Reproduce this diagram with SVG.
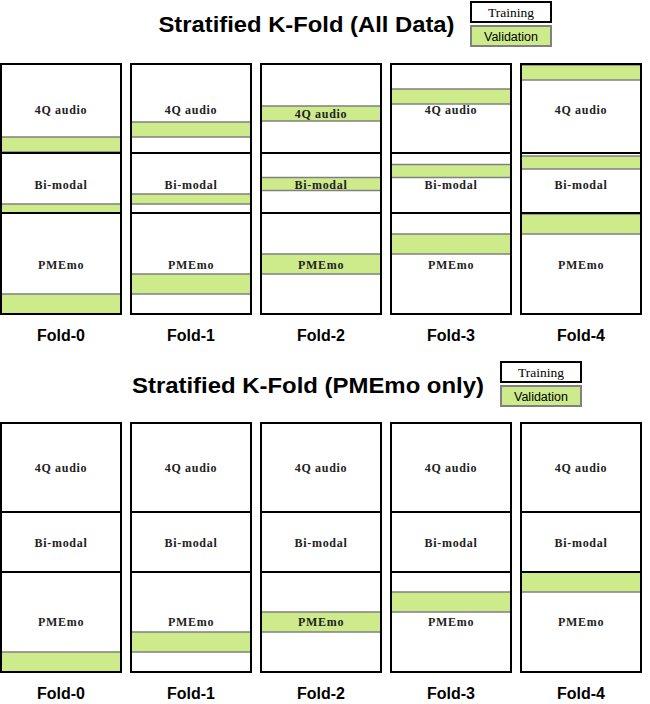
<svg xmlns="http://www.w3.org/2000/svg" width="650" height="704" viewBox="0 0 650 704">
<style>
.bg{fill:#ffffff;stroke:none}
.ol{fill:none;stroke:#000;stroke-width:2}
.val{fill:#cdeb8b;stroke:#808080;stroke-width:1.5}
.lab{font-family:"Liberation Serif","Times New Roman",serif;font-size:12px;font-weight:bold;fill:#222;text-anchor:middle;letter-spacing:0.7px}
.title{font-family:"Liberation Sans",Arial,sans-serif;font-size:22px;font-weight:bold;fill:#000;text-anchor:middle}
.fold{font-family:"Liberation Sans",Arial,sans-serif;font-size:16px;font-weight:bold;fill:#000;text-anchor:middle}
.lgT{font-family:"Liberation Serif","Times New Roman",serif;font-size:13.5px;fill:#000;text-anchor:middle}
.lgV{font-family:"Liberation Sans",Arial,sans-serif;font-size:12.5px;fill:#000;text-anchor:middle}
.lgTb{fill:#fff;stroke:#000;stroke-width:2}
.lgVb{fill:#cdeb8b;stroke:#808080;stroke-width:2}
</style>

<!-- Section 1 -->
<text class="title" x="306.5" y="32" textLength="296" lengthAdjust="spacingAndGlyphs">Stratified K-Fold (All Data)</text>
<g id="legend1">
<rect class="lgTb" x="471" y="2" width="80" height="20"/>
<text class="lgT" x="511" y="16.5">Training</text>
<rect class="lgVb" x="471" y="26" width="80" height="20"/>
<text class="lgV" x="511" y="40.5">Validation</text>
</g>

<g id="A-fold0">
<rect class="bg" x="1" y="64" width="120" height="250"/>
<rect class="val" x="1" y="137" width="120" height="15"/>
<rect class="val" x="1" y="204" width="120" height="9"/>
<rect class="val" x="1" y="294" width="120" height="20"/>
<rect class="ol" x="1" y="64" width="120" height="89"/>
<rect class="ol" x="1" y="153" width="120" height="60"/>
<rect class="ol" x="1" y="213" width="120" height="101"/>
<text class="lab" x="61" y="113.5">4Q audio</text>
<text class="lab" x="61" y="188.5">Bi-modal</text>
<text class="lab" x="61" y="269">PMEmo</text>
<text class="fold" x="61" y="341">Fold-0</text>
</g>
<g id="A-fold1">
<rect class="bg" x="131" y="64" width="120" height="250"/>
<rect class="val" x="131" y="122" width="120" height="15"/>
<rect class="val" x="131" y="194" width="120" height="10"/>
<rect class="val" x="131" y="274" width="120" height="20"/>
<rect class="ol" x="131" y="64" width="120" height="89"/>
<rect class="ol" x="131" y="153" width="120" height="60"/>
<rect class="ol" x="131" y="213" width="120" height="101"/>
<text class="lab" x="191" y="113.5">4Q audio</text>
<text class="lab" x="191" y="188.5">Bi-modal</text>
<text class="lab" x="191" y="269">PMEmo</text>
<text class="fold" x="191" y="341">Fold-1</text>
</g>
<g id="A-fold2">
<rect class="bg" x="261" y="64" width="120" height="250"/>
<rect class="val" x="261" y="106" width="120" height="15"/>
<rect class="val" x="261" y="177.5" width="120" height="13"/>
<rect class="val" x="261" y="254" width="120" height="20"/>
<rect class="ol" x="261" y="64" width="120" height="89"/>
<rect class="ol" x="261" y="153" width="120" height="60"/>
<rect class="ol" x="261" y="213" width="120" height="101"/>
<text class="lab" x="321" y="118">4Q audio</text>
<text class="lab" x="321" y="188.5">Bi-modal</text>
<text class="lab" x="321" y="269">PMEmo</text>
<text class="fold" x="321" y="341">Fold-2</text>
</g>
<g id="A-fold3">
<rect class="bg" x="391" y="64" width="120" height="250"/>
<rect class="val" x="391" y="89" width="120" height="15"/>
<rect class="val" x="391" y="164.5" width="120" height="13"/>
<rect class="val" x="391" y="234" width="120" height="20"/>
<rect class="ol" x="391" y="64" width="120" height="89"/>
<rect class="ol" x="391" y="153" width="120" height="60"/>
<rect class="ol" x="391" y="213" width="120" height="101"/>
<text class="lab" x="451" y="113.5">4Q audio</text>
<text class="lab" x="451" y="188.5">Bi-modal</text>
<text class="lab" x="451" y="269">PMEmo</text>
<text class="fold" x="451" y="341">Fold-3</text>
</g>
<g id="A-fold4">
<rect class="bg" x="521" y="64" width="120" height="250"/>
<rect class="val" x="521" y="65" width="120" height="15"/>
<rect class="val" x="521" y="156" width="120" height="13"/>
<rect class="val" x="521" y="214" width="120" height="20"/>
<rect class="ol" x="521" y="64" width="120" height="89"/>
<rect class="ol" x="521" y="153" width="120" height="60"/>
<rect class="ol" x="521" y="213" width="120" height="101"/>
<text class="lab" x="581" y="113.5">4Q audio</text>
<text class="lab" x="581" y="188.5">Bi-modal</text>
<text class="lab" x="581" y="269">PMEmo</text>
<text class="fold" x="581" y="341">Fold-4</text>
</g>

<!-- Section 2 -->
<text class="title" x="308" y="393" textLength="352" lengthAdjust="spacingAndGlyphs">Stratified K-Fold (PMEmo only)</text>
<g id="legend2">
<rect class="lgTb" x="501" y="362" width="80" height="20"/>
<text class="lgT" x="541" y="376.5">Training</text>
<rect class="lgVb" x="501" y="386" width="80" height="20"/>
<text class="lgV" x="541" y="400.5">Validation</text>
</g>

<g id="B-fold0">
<rect class="bg" x="1" y="423" width="120" height="249"/>
<rect class="val" x="1" y="652" width="120" height="20"/>
<rect class="ol" x="1" y="423" width="120" height="89"/>
<rect class="ol" x="1" y="512" width="120" height="60"/>
<rect class="ol" x="1" y="572" width="120" height="100"/>
<text class="lab" x="61" y="472">4Q audio</text>
<text class="lab" x="61" y="547">Bi-modal</text>
<text class="lab" x="61" y="626">PMEmo</text>
<text class="fold" x="61" y="699">Fold-0</text>
</g>
<g id="B-fold1">
<rect class="bg" x="131" y="423" width="120" height="249"/>
<rect class="val" x="131" y="632" width="120" height="20"/>
<rect class="ol" x="131" y="423" width="120" height="89"/>
<rect class="ol" x="131" y="512" width="120" height="60"/>
<rect class="ol" x="131" y="572" width="120" height="100"/>
<text class="lab" x="191" y="472">4Q audio</text>
<text class="lab" x="191" y="547">Bi-modal</text>
<text class="lab" x="191" y="626">PMEmo</text>
<text class="fold" x="191" y="699">Fold-1</text>
</g>
<g id="B-fold2">
<rect class="bg" x="261" y="423" width="120" height="249"/>
<rect class="val" x="261" y="612" width="120" height="20"/>
<rect class="ol" x="261" y="423" width="120" height="89"/>
<rect class="ol" x="261" y="512" width="120" height="60"/>
<rect class="ol" x="261" y="572" width="120" height="100"/>
<text class="lab" x="321" y="472">4Q audio</text>
<text class="lab" x="321" y="547">Bi-modal</text>
<text class="lab" x="321" y="626">PMEmo</text>
<text class="fold" x="321" y="699">Fold-2</text>
</g>
<g id="B-fold3">
<rect class="bg" x="391" y="423" width="120" height="249"/>
<rect class="val" x="391" y="592" width="120" height="20"/>
<rect class="ol" x="391" y="423" width="120" height="89"/>
<rect class="ol" x="391" y="512" width="120" height="60"/>
<rect class="ol" x="391" y="572" width="120" height="100"/>
<text class="lab" x="451" y="472">4Q audio</text>
<text class="lab" x="451" y="547">Bi-modal</text>
<text class="lab" x="451" y="626">PMEmo</text>
<text class="fold" x="451" y="699">Fold-3</text>
</g>
<g id="B-fold4">
<rect class="bg" x="521" y="423" width="120" height="249"/>
<rect class="val" x="521" y="572" width="120" height="20"/>
<rect class="ol" x="521" y="423" width="120" height="89"/>
<rect class="ol" x="521" y="512" width="120" height="60"/>
<rect class="ol" x="521" y="572" width="120" height="100"/>
<text class="lab" x="581" y="472">4Q audio</text>
<text class="lab" x="581" y="547">Bi-modal</text>
<text class="lab" x="581" y="626">PMEmo</text>
<text class="fold" x="581" y="699">Fold-4</text>
</g>

<g id="connectors"></g>
</svg>
